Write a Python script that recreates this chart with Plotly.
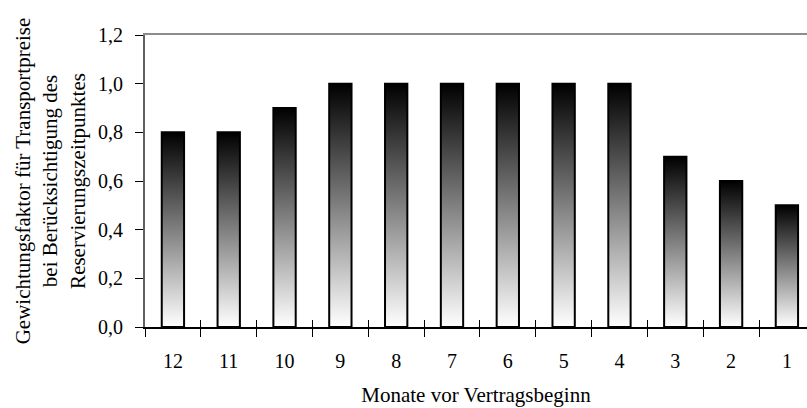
import plotly.graph_objects as go

# ---- data ----
months = ["12", "11", "10", "9", "8", "7", "6", "5", "4", "3", "2", "1"]
weights = [0.8, 0.8, 0.9, 1.0, 1.0, 1.0, 1.0, 1.0, 1.0, 0.7, 0.6, 0.5]
y_title = "Gewichtungsfaktor für Transportpreise<br>bei Berücksichtigung des<br>Reservierungszeitpunktes"
x_title = "Monate vor Vertragsbeginn"

FONT = "Liberation Serif"
boundaries = [i - 0.5 for i in range(len(months) + 1)]
xrange = [-0.5, 11.36]

fig = go.Figure()
fig.add_trace(go.Bar(
    x=months, y=weights,
    marker=dict(color="#808080", line=dict(color="black", width=2)),
    hoverinfo="skip",
))
# helper traces so the overlay axes are rendered
fig.add_trace(go.Scatter(x=[None], y=[None], xaxis="x2", showlegend=False, hoverinfo="skip"))
fig.add_trace(go.Scatter(x=[None], y=[None], xaxis="x3", showlegend=False, hoverinfo="skip"))

fig.update_layout(
    width=807, height=408,
    margin=dict(l=145, r=0, t=35, b=81),
    paper_bgcolor="white", plot_bgcolor="white",
    separators=",.",
    showlegend=False,
    bargap=0.6,
    font=dict(family=FONT, size=20, color="black"),
    xaxis=dict(
        type="category", range=xrange,
        ticks="outside", tickson="boundaries", ticklen=8, tickwidth=1, tickcolor="black",
        showline=True, linecolor="black", linewidth=2,
        showgrid=False, zeroline=False,
        tickfont=dict(family=FONT, size=20, color="black"),
        ticklabelstandoff=15,
        title=dict(text=x_title, font=dict(family=FONT, size=21, color="black"), standoff=16),
    ),
    xaxis2=dict(
        overlaying="x", anchor="y", side="bottom", range=xrange,
        tickmode="array", tickvals=boundaries,
        ticks="inside", ticklen=7, tickwidth=1, tickcolor="black",
        showticklabels=False, showline=False, showgrid=False, zeroline=False,
    ),
    xaxis3=dict(
        overlaying="x", anchor="y", side="top", range=xrange,
        ticks="", showticklabels=False,
        showline=True, linecolor="#8c8c8c", linewidth=2,
        showgrid=False, zeroline=False,
    ),
    yaxis=dict(
        range=[0, 1.2], dtick=0.2, tick0=0, tickformat=".1f",
        ticks="outside", ticklen=8, tickwidth=1, tickcolor="black",
        showline=True, linecolor="#606060", linewidth=2,
        showgrid=False, zeroline=False,
        tickfont=dict(family=FONT, size=20, color="black"),
        ticklabelstandoff=8,
        title=dict(text=y_title, font=dict(family=FONT, size=21, color="black"), standoff=7),
    ),
)

post = """
var gd = document.getElementById('{plot_id}');
function applyGrad() {
  var svg = gd.querySelector('svg.main-svg');
  var defs = svg.querySelector('defs');
  var ns = 'http://www.w3.org/2000/svg';
  if (!svg.querySelector('#barGrad')) {
    var lg = document.createElementNS(ns, 'linearGradient');
    lg.setAttribute('id', 'barGrad');
    lg.setAttribute('x1', '0'); lg.setAttribute('y1', '0');
    lg.setAttribute('x2', '0'); lg.setAttribute('y2', '1');
    var s1 = document.createElementNS(ns, 'stop');
    s1.setAttribute('offset', '0'); s1.setAttribute('stop-color', '#000000');
    var s2 = document.createElementNS(ns, 'stop');
    s2.setAttribute('offset', '1'); s2.setAttribute('stop-color', '#ffffff');
    lg.appendChild(s1); lg.appendChild(s2);
    defs.appendChild(lg);
  }
  gd.querySelectorAll('.trace.bars .point path').forEach(function(p) {
    p.style.setProperty('fill', 'url(#barGrad)');
    p.style.setProperty('fill-opacity', '1');
  });
}
applyGrad();
gd.on('plotly_afterplot', applyGrad);
"""

fig.write_html("out.html", post_script=post)
